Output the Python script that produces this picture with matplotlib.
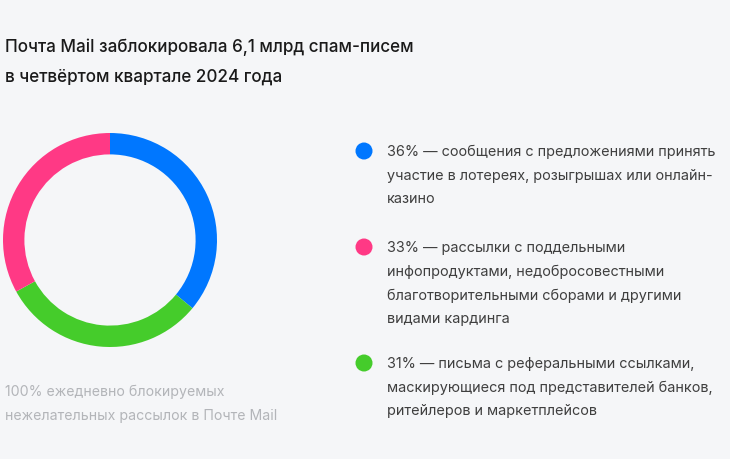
import matplotlib.pyplot as plt
from matplotlib.patches import Circle

# Data
categories = [
    "36% — сообщения с предложениями принять\nучастие в лотереях, розыгрышах или онлайн-\nказино",
    "33% — рассылки с поддельными\nинфопродуктами, недобросовестными\nблаготворительными сборами и другими\nвидами кардинга",
    "31% — письма с реферальными ссылками,\nмаскирующиеся под представителей банков,\nритейлеров и маркетплейсов",
]
shares = [36, 33, 31]
colors = ["#0077FF", "#FF3985", "#45CC2B"]

title = "Почта Mail заблокировала 6,1 млрд спам-писем\nв четвёртом квартале 2024 года"
footnote = "100% ежедневно блокируемых\nнежелательных рассылок в Почте Mail"

BG = "#F5F6F8"
W, H = 730, 460

plt.rcParams["font.family"] = ["Inter", "DejaVu Sans"]

fig = plt.figure(figsize=(W / 100, H / 100), dpi=100, facecolor=BG)

# overlay axes in pixel coordinates for texts and legend dots
over = fig.add_axes([0, 0, 1, 1])
over.set_xlim(0, W)
over.set_ylim(H, 0)
over.axis("off")

# donut: clockwise from top, blue -> green -> pink
order = [0, 2, 1]
cx, cy, r = 110, 241, 107
dax = fig.add_axes([(cx - r) / W, (H - cy - r) / H, 2 * r / W, 2 * r / H])
dax.pie([shares[i] for i in order], colors=[colors[i] for i in order],
        startangle=90, counterclock=False, radius=1,
        wedgeprops=dict(width=0.2, edgecolor="none"))
dax.set_xlim(-1, 1)
dax.set_ylim(-1, 1)
dax.set_aspect("equal")
dax.axis("off")

over.text(5, 62, title, fontsize=12.3, fontweight="medium", color="#1a1a1a",
          va="center", linespacing=1.95)

over.text(5, 404, footnote, fontsize=10.2, color="#b3b5b9", va="center",
          linespacing=1.85)

# legend
item_y = [152, 248, 364]
for txt, col, y in zip(categories, colors, item_y):
    over.add_patch(Circle((364, y), 8.5, color=col, ec="none"))
    over.text(387, y - 7, txt, fontsize=10.4, color="#3f3f3f", va="top",
              linespacing=1.85)

fig.savefig("out.png", dpi=100, facecolor=BG)
